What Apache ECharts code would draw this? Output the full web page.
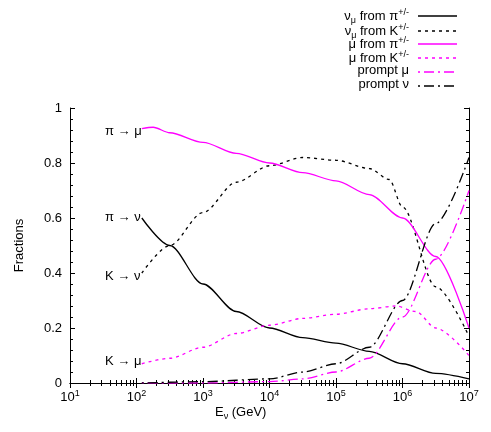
<!DOCTYPE html>
<html><head><meta charset="utf-8">
<script src="https://cdn.jsdelivr.net/npm/echarts@6/dist/echarts.min.js"></script>
<style>body{margin:0}#c{width:491px;height:432px}</style>
</head><body><div id="c"></div>
<script>
// log10(E) sample points and fractions
const numuPi_x = [2.08,2.5,3,3.5,4,4.5,5,5.5,6,6.5,7];
const numuPi_y = [0.6,0.5,0.36,0.26,0.2,0.165,0.145,0.115,0.07,0.035,0.015];
const numuK_x = [2.08,2.5,3,3.5,4,4.5,5,5.5,5.8,6,6.5,7];
const numuK_y = [0.4,0.5,0.62,0.73,0.79,0.82,0.81,0.78,0.74,0.64,0.35,0.17];
const muPi_x = [2.08,2.25,2.5,3,3.5,4,4.5,5,5.5,6,6.5,7];
const muPi_y = [0.925,0.93,0.91,0.875,0.835,0.8,0.765,0.735,0.685,0.6,0.46,0.2];
const muK_x = [2.08,2.5,3,3.5,4,4.5,5,5.5,5.9,6.2,6.5,7];
const muK_y = [0.07,0.09,0.13,0.18,0.21,0.235,0.25,0.27,0.28,0.26,0.2,0.1];
const promptMu_x = [2.08,3,4,4.5,5,5.5,6,6.5,7];
const promptMu_y = [0,0,0.005,0.015,0.04,0.09,0.24,0.45,0.7];
const promptNu_x = [2.08,3,4,4.5,5,5.5,6,6.5,7];
const promptNu_y = [0,0.005,0.015,0.04,0.07,0.13,0.3,0.58,0.82];

function pts(xs, ys){ return xs.map((x,i)=>[Math.pow(10,x), ys[i]]); }

const chart = echarts.init(document.getElementById('c'));
const F = 'Liberation Sans, Arial, sans-serif';
const tick = {inside:true, length:5, lineStyle:{color:'#000'}};
const minor = {show:true, length:3, lineStyle:{color:'#000'}};
const lineSeries = (name, data, color, type) => ({
  name, type:'line', data, symbol:'none', smooth:0.3, smoothMonotone:'x', z:3,
  lineStyle:{color, width:1.3, type}
});
const legendRows = [
  ['{t|ν}{s|μ}{t| from π}{p|+/-}', '#000', 'solid'],
  ['{t|ν}{s|μ}{t| from K}{p|+/-}', '#000', [3,4]],
  ['{t|μ from π}{p|+/-}', '#ff00ff', 'solid'],
  ['{t|μ from K}{p|+/-}', '#ff00ff', [3,4]],
  ['{t|prompt μ}', '#ff00ff', [2,4,10,4]],
  ['{t|prompt ν}', '#000', [2,4,10,4]]
];
const ry = [16, 31, 44, 58, 72, 86];
const graphic = [];
legendRows.forEach((r,i)=>{
  graphic.push({type:'text', right:82, top:ry[i]-8, style:{text:r[0], fontFamily:F, fill:'#000',
    rich:{t:{fontSize:13,fontFamily:F}, s:{fontSize:9,fontFamily:F,verticalAlign:'bottom',padding:[8,0,0,0]},
          p:{fontSize:9,fontFamily:F,verticalAlign:'top',padding:[0,0,8,0]}}}});
  graphic.push({type:'line', shape:{x1:418,y1:ry[i],x2:457,y2:ry[i]},
    style:{stroke:r[1], lineWidth:1.3, lineDash:r[2]==='solid'?null:r[2]}});
});
[['π → μ',132],['π → ν',218],['K → ν',277],['K → μ',362]].forEach(l=>{
  graphic.push({type:'text', left:105, top:l[1]-7, style:{text:l[0], fontSize:13, fontFamily:F, fill:'#000'}});
});
graphic.push({type:'text', left:215, top:406, style:{text:'{t|E}{s|ν}{t| (GeV)}', fontFamily:F,
  rich:{t:{fontSize:13,fontFamily:F}, s:{fontSize:9,fontFamily:F,verticalAlign:'bottom',padding:[8,0,0,0]}}}});

chart.setOption({
  animation:false,
  grid:{left:70, right:22, top:108, bottom:49},
  graphic,
  xAxis:[{
    type:'log', min:10, max:1e7, logBase:10,
    axisLine:{lineStyle:{color:'#000'}}, splitLine:{show:false},
    axisTick:tick, minorTick:{show:true, splitNumber:9, length:3, lineStyle:{color:'#000'}},
    axisLabel:{fontFamily:F, color:'#000', margin:6,
      formatter:v=>'{b|10}{p|'+Math.round(Math.log10(v))+'}',
      rich:{b:{fontSize:13,fontFamily:F}, p:{fontSize:9,fontFamily:F,verticalAlign:'top',padding:[0,0,8,0]}}}
  },{
    type:'log', min:10, max:1e7, position:'top',
    axisLine:{lineStyle:{color:'#000'}}, splitLine:{show:false},
    axisTick:tick, minorTick:{show:true, splitNumber:9, length:3, lineStyle:{color:'#000'}}, axisLabel:{show:false}
  }],
  yAxis:[{
    type:'value', min:0, max:1, interval:0.2, name:'Fractions', nameLocation:'middle', nameGap:44,
    nameTextStyle:{fontFamily:F, fontSize:13, color:'#000'},
    axisLine:{show:true, lineStyle:{color:'#000'}}, splitLine:{show:false},
    axisTick:tick, minorTick:minor,
    axisLabel:{fontFamily:F, fontSize:13, color:'#000', formatter:v=>String(+v.toFixed(1))}
  },{
    type:'value', min:0, max:1, interval:0.2, position:'right',
    axisLine:{show:true, lineStyle:{color:'#000'}}, splitLine:{show:false},
    axisTick:tick, minorTick:minor, axisLabel:{show:false}
  }],
  series:[
    lineSeries('nu_mu from pi', pts(numuPi_x,numuPi_y), '#000', 'solid'),
    lineSeries('nu_mu from K', pts(numuK_x,numuK_y), '#000', [3,4]),
    lineSeries('mu from pi', pts(muPi_x,muPi_y), '#ff00ff', 'solid'),
    lineSeries('mu from K', pts(muK_x,muK_y), '#ff00ff', [3,4]),
    lineSeries('prompt mu', pts(promptMu_x,promptMu_y), '#ff00ff', [2,4,10,4]),
    lineSeries('prompt nu', pts(promptNu_x,promptNu_y), '#000', [2,4,10,4])
  ]
});
</script></body></html>
